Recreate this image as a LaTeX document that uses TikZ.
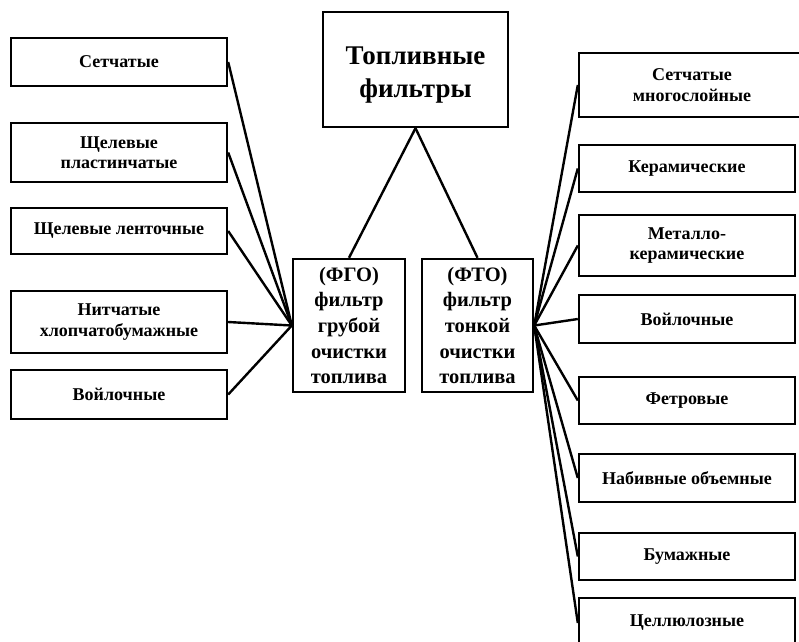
\documentclass[tikz,border=0pt]{standalone}
\usepackage{fontspec}
\setmainfont{Liberation Serif}
\begin{document}
\begin{tikzpicture}[x=1pt,y=-1pt,
  box/.style={draw, line width=2.4pt, rectangle, inner sep=0pt, align=center, font=\fontsize{18}{20.5}\selectfont\bfseries},
  mid/.style={box, font=\fontsize{20.5}{25.7}\selectfont\bfseries},
  ttl/.style={box, font=\fontsize{27}{33}\selectfont\bfseries},
  conn/.style={line width=2.4pt}]
\useasboundingbox (0,0) rectangle (799,641);
\clip (0,0) rectangle (799,641);
% title and centre boxes
\node[ttl, minimum width=185pt, minimum height=115pt] (t) at (415.5,69.5) {\rule{0pt}{29pt}Топливные\\фильтры};
\node[mid, minimum width=112pt, minimum height=133pt] (fgo) at (349,325.5) {(ФГО)\\фильтр\\грубой\\очистки\\топлива};
\node[mid, minimum width=111pt, minimum height=133pt] (fto) at (477.5,325.5) {(ФТО)\\фильтр\\тонкой\\очистки\\топлива};
% left boxes
\node[box, minimum width=216pt, minimum height=48pt] (l1) at (119,62) {Сетчатые};
\node[box, minimum width=216pt, minimum height=59pt] (l2) at (119,152.5) {Щелевые\\пластинчатые};
\node[box, minimum width=216pt, minimum height=46pt] (l3) at (119,231) {Щелевые ленточные};
\node[box, minimum width=216pt, minimum height=62pt] (l4) at (119,322) {Нитчатые\\хлопчатобумажные};
\node[box, minimum width=216pt, minimum height=49pt] (l5) at (119,394.5) {Войлочные};
% right boxes
\node[box, minimum width=226pt, minimum height=64pt] (r1) at (692,85) {Сетчатые\\многослойные};
\node[box, minimum width=216pt, minimum height=47pt] (r2) at (687,168.5) {Керамические};
\node[box, minimum width=216pt, minimum height=61pt] (r3) at (687,245.5) {Металло-\\керамические};
\node[box, minimum width=216pt, minimum height=48pt] (r4) at (687,319) {Войлочные};
\node[box, minimum width=216pt, minimum height=47pt] (r5) at (687,400.5) {Фетровые};
\node[box, minimum width=216pt, minimum height=48pt] (r6) at (687,478) {Набивные объемные};
\node[box, minimum width=216pt, minimum height=47pt] (r7) at (687,556.5) {Бумажные};
\node[box, minimum width=216pt, minimum height=50pt] (r8) at (687,623) {Целлюлозные};
% connectors
\coordinate (lc) at (fgo.west);
\coordinate (rc) at (fto.east);
\draw[conn] (t.south) -- (fgo.north);
\draw[conn] (t.south) -- (fto.north);
\foreach \n in {l1,l2,l3,l4,l5} \draw[conn] (\n.east) -- (lc);
\foreach \n in {r1,r2,r3,r4,r5,r6,r7,r8} \draw[conn] (rc) -- (\n.west);
\end{tikzpicture}
\end{document}
